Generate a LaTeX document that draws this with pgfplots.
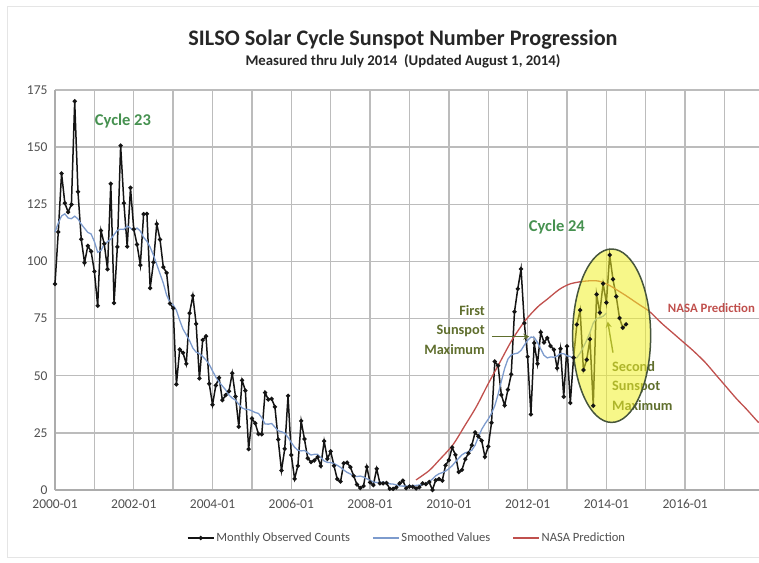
\documentclass[border=0pt]{standalone}
\usepackage{fontspec}
\setmainfont{Carlito}
\usepackage{pgfplots}
\pgfplotsset{compat=1.18}
\usepackage{pgfplotstable}
\usetikzlibrary{arrows.meta}

\definecolor{obs}{RGB}{20,20,20}
\definecolor{smoothc}{RGB}{125,155,205}
\definecolor{nasa}{RGB}{192,80,77}
\definecolor{gridc}{RGB}{188,188,188}
\definecolor{cyc}{RGB}{70,145,80}
\definecolor{annot}{RGB}{95,110,45}
\definecolor{ellfill}{RGB}{240,240,40}
\definecolor{ellline}{RGB}{70,85,60}
\definecolor{tickc}{RGB}{80,80,80}

\pgfplotstableread{
m v
0 90.1
1 112.9
2 138.5
3 125.5
4 121.6
5 124.9
6 170.1
7 130.5
8 109.7
9 99.4
10 106.8
11 104.4
12 95.6
13 80.6
14 113.5
15 107.7
16 96.6
17 134.0
18 81.8
19 106.4
20 150.7
21 125.5
22 106.5
23 132.2
24 114.1
25 107.4
26 98.4
27 120.7
28 120.8
29 88.3
30 99.6
31 116.4
32 109.6
33 97.5
34 95.0
35 81.6
36 79.5
37 46.2
38 61.5
39 60.0
40 55.2
41 77.4
42 85.0
43 72.7
44 48.8
45 65.6
46 67.3
47 46.5
48 37.3
49 45.8
50 49.1
51 39.3
52 41.5
53 43.2
54 51.1
55 40.9
56 27.7
57 48.0
58 43.5
59 17.9
60 31.3
61 29.2
62 24.5
63 24.4
64 42.6
65 39.6
66 39.9
67 36.4
68 22.1
69 8.5
70 18.0
71 41.2
72 15.3
73 4.9
74 10.6
75 30.2
76 22.3
77 13.9
78 12.2
79 12.9
80 14.4
81 10.5
82 21.4
83 13.6
84 16.9
85 10.6
86 4.8
87 3.7
88 11.7
89 12.0
90 10.0
91 6.2
92 2.4
93 0.9
94 1.7
95 10.1
96 3.3
97 2.1
98 9.3
99 2.9
100 2.9
101 3.1
102 0.5
103 0.5
104 1.1
105 2.9
106 4.1
107 0.8
108 1.5
109 1.4
110 0.7
111 1.2
112 2.9
113 2.6
114 3.5
115 0.0
116 4.3
117 4.8
118 4.1
119 10.8
120 13.1
121 18.6
122 15.4
123 7.9
124 8.8
125 13.5
126 16.1
127 19.6
128 25.2
129 23.5
130 21.6
131 14.5
132 19.0
133 29.4
134 56.2
135 54.4
136 41.6
137 37.0
138 43.9
139 50.6
140 78.0
141 88.0
142 96.7
143 73.0
144 58.3
145 33.1
146 64.3
147 55.2
148 69.0
149 64.5
150 66.5
151 63.0
152 61.4
153 53.3
154 61.8
155 40.8
156 62.9
157 38.1
158 57.9
159 72.4
160 78.7
161 52.5
162 57.0
163 66.0
164 36.9
165 85.6
166 77.6
167 90.3
168 82.0
169 102.8
170 92.2
171 84.7
172 75.2
173 71.0
174 72.5
}\observed

\pgfplotstableread{
m s
0 112.9
1 116.8
2 119.9
3 120.8
4 119.0
5 118.7
6 119.8
7 118.6
8 116.3
9 114.5
10 112.7
11 112.0
12 108.7
13 104.0
14 104.8
15 107.5
16 108.6
17 109.8
18 111.7
19 113.6
20 114.1
21 114.0
22 115.5
23 114.6
24 113.5
25 114.6
26 113.3
27 110.5
28 108.8
29 106.2
30 102.7
31 98.7
32 94.6
33 90.5
34 85.3
35 82.1
36 81.0
37 78.6
38 74.2
39 70.4
40 67.9
41 65.3
42 62.1
43 60.3
44 59.7
45 58.4
46 56.9
47 54.9
48 52.1
49 49.4
50 47.2
51 45.5
52 43.8
53 41.6
54 40.2
55 39.3
56 37.5
57 35.9
58 35.3
59 35.2
60 34.6
61 33.9
62 33.5
63 31.6
64 28.9
65 28.8
66 29.1
67 27.5
68 25.9
69 25.5
70 24.9
71 23.0
72 20.8
73 18.7
74 17.4
75 17.1
76 17.3
77 16.3
78 15.3
79 15.6
80 15.6
81 14.2
82 12.7
83 12.1
84 12.0
85 11.6
86 10.8
87 9.9
88 8.7
89 7.7
90 7.0
91 6.1
92 5.9
93 6.1
94 5.7
95 4.9
96 4.2
97 3.5
98 3.3
99 3.3
100 3.5
101 3.2
102 2.7
103 2.6
104 2.2
105 1.8
106 1.7
107 1.7
108 1.8
109 1.9
110 2.0
111 2.2
112 2.3
113 2.7
114 3.6
115 4.8
116 6.2
117 7.1
118 7.6
119 8.3
120 9.3
121 10.6
122 12.3
123 13.9
124 15.4
125 16.3
126 16.7
127 17.4
128 19.6
129 23.2
130 26.5
131 28.9
132 31.0
133 33.5
134 36.9
135 41.8
136 47.6
137 53.2
138 57.3
139 59.1
140 59.6
141 59.9
142 61.1
143 63.4
144 65.5
145 66.9
146 66.8
147 64.6
148 61.7
149 58.9
150 57.8
151 58.2
152 58.1
153 58.6
154 59.7
155 59.6
156 58.7
157 58.4
158 57.5
159 57.9
160 59.9
161 62.6
162 65.5
163 68.9
164 73.1
165 75.0
166 75.4
167 76.0
168 77.4
}\smoothed

\pgfplotstableread{
m p
110.0 4.4
114.0 8.5
117.0 13.0
121.2 19.7
124.8 28.0
128.4 36.5
132.0 46.5
135.6 56.0
139.2 65.5
143.2 74.0
147.0 80.0
150.0 83.5
153.6 87.7
156.6 90.0
159.6 91.0
162.6 91.5
165.6 91.4
168.6 89.8
171.0 87.7
174.0 85.0
177.6 81.5
181.2 78.0
184.8 73.0
188.4 68.5
192.0 64.0
194.4 61.0
198.0 56.0
201.6 50.0
204.6 45.0
207.6 40.0
210.6 35.5
213.6 30.7
214.4 29.5
}\nasa

\begin{document}
\begin{tikzpicture}
\useasboundingbox (0,0) rectangle (759pt,562pt);
\draw[gray!20, line width=1pt] (7pt,5pt) rectangle (800pt,555pt);

\node[font=\fontsize{22.2}{26}\selectfont\bfseries, text=black!85] at (403pt,522pt) {SILSO Solar Cycle Sunspot Number Progression};
\node[font=\fontsize{14.8}{18}\selectfont\bfseries, text=black!85] at (403pt,501pt) {Measured thru July 2014\ \ (Updated August 1, 2014)};

\begin{axis}[
  at={(55pt,72pt)}, anchor=south west,
  scale only axis, width=704pt, height=400pt,
  xmin=0, xmax=214.5, ymin=0, ymax=175,
  clip=false,
  axis x line*=bottom, axis y line*=left,
  axis line style={-, draw=gray!65, line width=1.2pt},
  xtick={0,24,...,192},
  xticklabels={2000-01,2002-01,2004-01,2006-01,2008-01,2010-01,2012-01,2014-01,2016-01},
  minor xtick={12,36,...,204},
  ytick={0,25,...,175},
  xmajorgrids=true, xminorgrids=true, ymajorgrids=true,
  major grid style={draw=gridc, line width=1.4pt},
  minor grid style={draw=gridc, line width=1.4pt},
  major tick length=0pt, minor tick length=0pt,
  /pgf/number format/assume math mode=true,
  tick label style={font=\fontsize{13.5}{16}\selectfont, text=tickc},
  yticklabel style={xshift=-4pt},
  xticklabel style={yshift=-6pt},
  legend style={at={(0.5,-0.12)}, anchor=center, draw=none, fill=none,
    legend columns=3, font=\fontsize{12.6}{15}\selectfont, text=tickc,
    /tikz/every even column/.append style={column sep=20pt}},
  legend image code/.code={\draw[mark repeat=2,mark phase=2,#1] plot coordinates {(0pt,0pt) (13pt,0pt) (26pt,0pt)};},
]
\addplot[obs, line width=1.5pt, mark=*, mark size=1.3pt, mark options={solid, fill=obs}] table[x=m, y=v] {\observed};
\addlegendentry{Monthly Observed Counts}
\addplot[smoothc, line width=1.3pt] table[x=m, y=s] {\smoothed};
\addlegendentry{Smoothed Values}
\addplot[nasa, line width=1.3pt, smooth] table[x=m, y=p] {\nasa};
\addlegendentry{NASA Prediction}

\node[font=\fontsize{16.5}{19}\selectfont\bfseries, text=cyc] at (axis cs:20.7,161.4) {Cycle 23};
\node[font=\fontsize{16.5}{19}\selectfont\bfseries, text=cyc] at (axis cs:152.9,114.9) {Cycle 24};
\node[anchor=west, font=\fontsize{12.8}{15}\selectfont\bfseries, text=nasa, inner sep=0pt] at (axis cs:186.7,79.8) {NASA Prediction};
\node[anchor=east, align=right, font=\fontsize{14.3}{19.5}\selectfont\bfseries, text=annot, inner sep=0pt] at (axis cs:131,70.2) {First\\Sunspot\\Maximum};
\draw[annot, line width=1.4pt, -{Stealth[length=6pt,width=6pt]}] (axis cs:133.1,67.1) -- (axis cs:144.5,67.1);
\node[anchor=west, align=left, font=\fontsize{14.3}{19.5}\selectfont\bfseries, text=annot, inner sep=0pt] at (axis cs:169.7,45.6) {Second\\Sunspot\\Maximum};
\draw[annot, line width=1.4pt, -{Stealth[length=6pt,width=6pt]}] (axis cs:170.0,60.1) -- (axis cs:168.4,73.7);
\fill[ellfill, fill opacity=0.55] (axis cs:169.6,67.5) ellipse [x radius=39pt, y radius=86.7pt];
\draw[ellline, line width=1.5pt] (axis cs:169.6,67.5) ellipse [x radius=39pt, y radius=86.7pt];
\end{axis}
\end{tikzpicture}
\end{document}
